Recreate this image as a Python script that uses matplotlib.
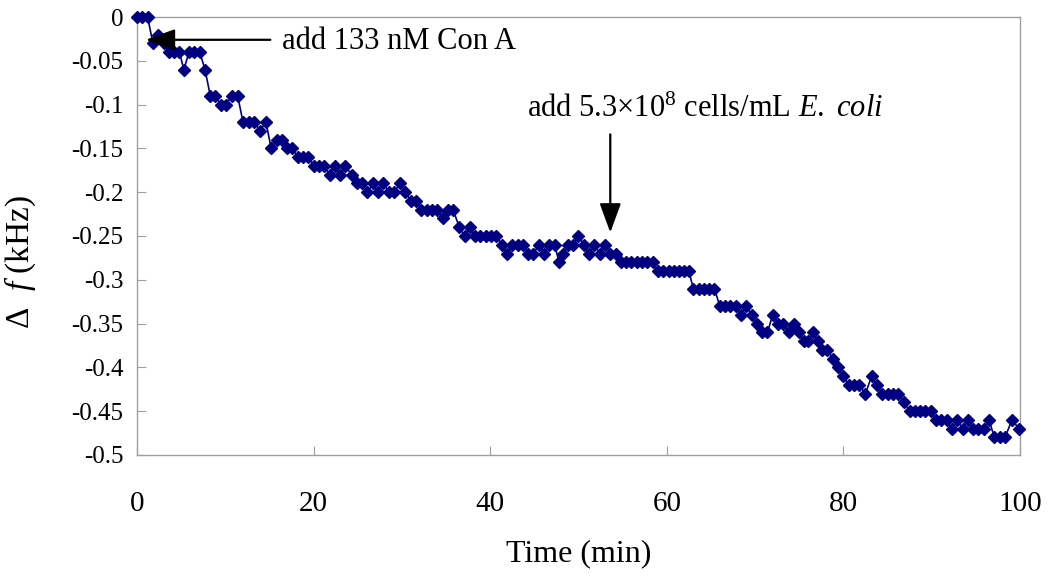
import matplotlib
matplotlib.use("Agg")
import matplotlib.pyplot as plt
from matplotlib.ticker import FuncFormatter

plt.rcParams['font.family'] = ['Liberation Serif', 'DejaVu Serif']
plt.rcParams['mathtext.fontset'] = 'custom'
plt.rcParams['mathtext.rm'] = 'Liberation Serif'
plt.rcParams['mathtext.it'] = 'Liberation Serif:italic'
plt.rcParams['axes.unicode_minus'] = False

# time (min) and frequency shift (kHz)
time_min = [
    0.0, 0.6, 1.2, 1.8, 2.4, 3.0, 3.6, 4.2, 4.8, 5.3, 5.9, 6.5, 7.1, 7.7, 8.3, 8.8,
    9.5, 10.1, 10.7, 11.4, 12.0, 12.7, 13.3, 13.9, 14.6, 15.2, 15.8, 16.4, 17.0, 17.6,
    18.2, 18.8, 19.4, 20.0, 20.6, 21.2, 21.8, 22.4, 23.0, 23.6, 24.3, 24.9, 25.5, 26.1,
    26.7, 27.3, 27.9, 28.5, 29.1, 29.8, 30.4, 31.0, 31.6, 32.2, 32.8, 33.4, 34.0, 34.6,
    35.2, 35.8, 36.5, 37.1, 37.7, 38.3, 38.9, 39.5, 40.1, 40.7, 41.3, 41.9, 42.5, 43.1,
    43.7, 44.3, 44.9, 45.5, 46.1, 46.7, 47.3, 47.8, 48.3, 48.8, 49.4, 50.0, 50.6, 51.2,
    51.8, 52.4, 53.0, 53.6, 54.2, 54.8, 55.4, 56.0, 56.6, 57.2, 57.8, 58.4, 59.0, 59.6,
    60.2, 60.8, 61.4, 62.0, 62.5, 63.0, 63.6, 64.2, 64.8, 65.4, 66.0, 66.6, 67.2, 67.8,
    68.4, 69.0, 69.6, 70.2, 70.8, 71.4, 72.0, 72.6, 73.2, 73.8, 74.4, 75.0, 75.5, 76.0,
    76.6, 77.1, 77.6, 78.2, 78.8, 79.4, 80.0, 80.6, 81.2, 81.8, 82.5, 83.2, 83.8, 84.4,
    85.0, 85.6, 86.2, 86.9, 87.5, 88.1, 88.7, 89.3, 89.9, 90.5, 91.1, 91.7, 92.3, 92.9,
    93.5, 94.1, 94.7, 95.3, 95.9, 96.5, 97.1, 97.7, 98.3, 99.1, 99.9,
]
delta_f = [
    0, 0, 0, -0.03, -0.02, -0.03, -0.04, -0.04, -0.04, -0.06, -0.04, -0.04, -0.04, -0.06, -0.09, -0.09,
    -0.10, -0.10, -0.09, -0.09, -0.12, -0.12, -0.12, -0.13, -0.12, -0.15, -0.14, -0.14, -0.15, -0.15,
    -0.16, -0.16, -0.16, -0.17, -0.17, -0.17, -0.18, -0.17, -0.18, -0.17, -0.18, -0.19, -0.19, -0.20,
    -0.19, -0.20, -0.19, -0.20, -0.20, -0.19, -0.20, -0.21, -0.21, -0.22, -0.22, -0.22, -0.22, -0.23,
    -0.22, -0.22, -0.24, -0.25, -0.24, -0.25, -0.25, -0.25, -0.25, -0.25, -0.26, -0.27, -0.26, -0.26,
    -0.26, -0.27, -0.27, -0.26, -0.27, -0.26, -0.26, -0.28, -0.27, -0.26, -0.26, -0.25, -0.26, -0.27,
    -0.26, -0.27, -0.26, -0.27, -0.27, -0.28, -0.28, -0.28, -0.28, -0.28, -0.28, -0.28, -0.29, -0.29,
    -0.29, -0.29, -0.29, -0.29, -0.29, -0.31, -0.31, -0.31, -0.31, -0.31, -0.33, -0.33, -0.33, -0.33,
    -0.34, -0.33, -0.34, -0.35, -0.36, -0.36, -0.34, -0.35, -0.35, -0.36, -0.35, -0.36, -0.37, -0.37,
    -0.36, -0.37, -0.38, -0.38, -0.39, -0.40, -0.41, -0.42, -0.42, -0.42, -0.43, -0.41, -0.42, -0.43,
    -0.43, -0.43, -0.43, -0.44, -0.45, -0.45, -0.45, -0.45, -0.45, -0.46, -0.46, -0.46, -0.47, -0.46,
    -0.47, -0.46, -0.47, -0.47, -0.47, -0.46, -0.48, -0.48, -0.48, -0.46, -0.47,
]

x_ticks = [0, 20, 40, 60, 80, 100]
y_ticks = [0, -0.05, -0.1, -0.15, -0.2, -0.25, -0.3, -0.35, -0.4, -0.45, -0.5]

navy = '#000080'
frame = '#a0a0a0'

fig = plt.figure(figsize=(10.5, 5.83), dpi=100)
ax = fig.add_axes([0.1305, 0.2196, 0.8409, 0.7512])

ax.plot(time_min, delta_f, color=navy, lw=1.2, marker='D', ms=6.3,
        markeredgecolor=navy, markerfacecolor=navy, clip_on=False, zorder=3)

ax.set_xlim(0, 100)
ax.set_ylim(-0.5, 0)
ax.set_xticks(x_ticks)
ax.set_yticks(y_ticks)
ax.yaxis.set_major_formatter(FuncFormatter(lambda v, p: '%g' % round(v, 2)))

for s in ax.spines.values():
    s.set_color(frame)
    s.set_linewidth(1.0)
ax.tick_params(axis='both', direction='in', length=6.5, color=frame)
ax.tick_params(axis='x', pad=26, labelsize=21)
ax.tick_params(axis='y', pad=10, labelsize=18)

ax.set_xlabel('Time (min)', fontsize=23, labelpad=16)
ax.set_ylabel(r'Δ  $f$ (kHz)', fontsize=24)
ax.yaxis.set_label_coords(-0.112, 0.44)

arrow = dict(arrowstyle='-|>,head_length=0.9,head_width=0.33',
             color='black', lw=1.6, shrinkA=0, shrinkB=0, mutation_scale=20)

# first injection: horizontal arrow pointing at the start of the trace
ax.annotate('', xy=(1.0, -0.026), xytext=(15.1, -0.026), arrowprops=arrow)
ax.text(16.4, -0.028, 'add 133 nM Con A', fontsize=22, va='center', ha='left')

# second injection: vertical arrow below its label
ax.annotate('', xy=(53.6, -0.246), xytext=(53.6, -0.134), arrowprops=arrow)
ax.text(44.2, -0.105, r'add 5.3×10$^{8}$ cells/mL $E.$ $coli$', fontsize=22,
        va='center', ha='left')

fig.savefig('out.png', dpi=100)
